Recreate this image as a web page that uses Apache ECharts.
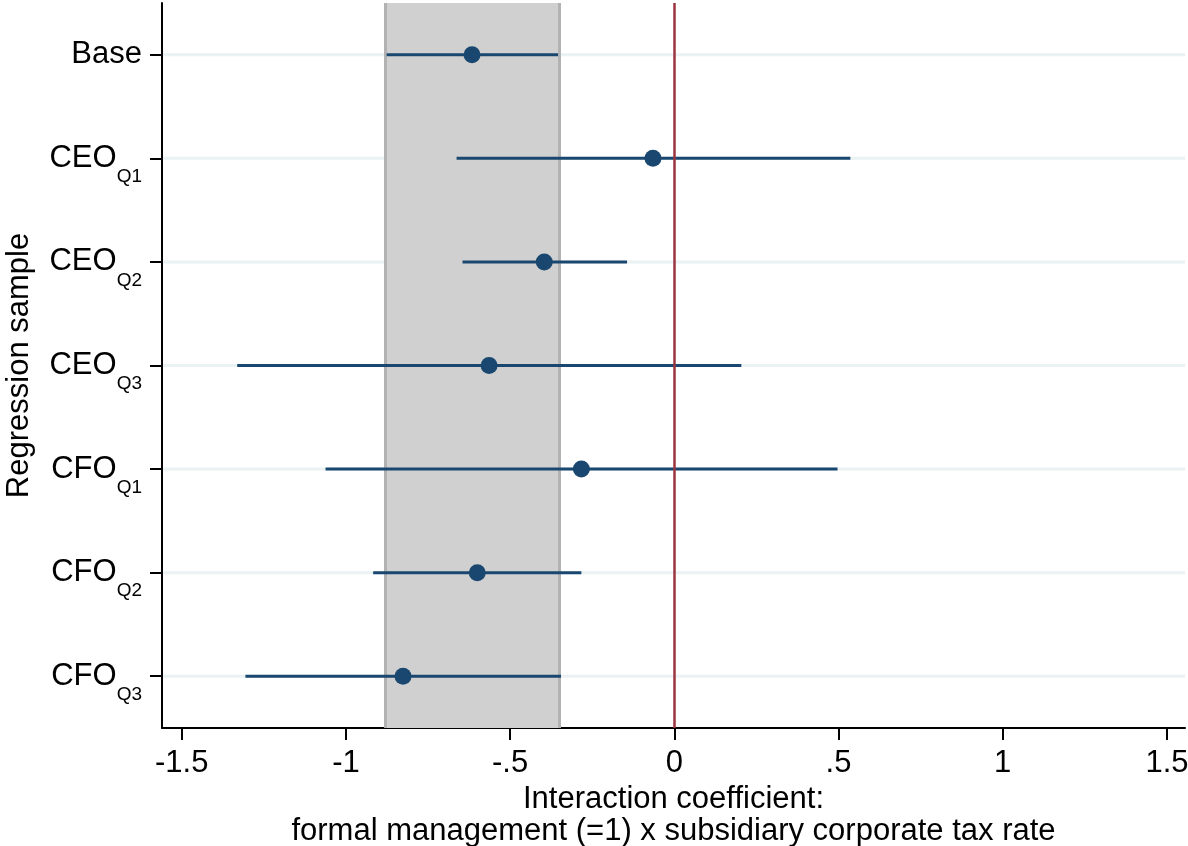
<!DOCTYPE html>
<html>
<head>
<meta charset="utf-8">
<title>Interaction coefficient by regression sample</title>
<script src="https://cdn.jsdelivr.net/npm/echarts@6/dist/echarts.min.js"></script>
<style>
  html, body { margin: 0; padding: 0; background: #ffffff; }
  #chart { width: 1188px; height: 846px; }
</style>
</head>
<body>
<div id="chart"></div>
<script>
// Regression samples (main label + subscript quartile)
const sampleNames = ['Base', 'CEO', 'CEO', 'CEO', 'CFO', 'CFO', 'CFO'];
const sampleQuartiles = ['', 'Q1', 'Q2', 'Q3', 'Q1', 'Q2', 'Q3'];

// Point estimates and confidence bounds
const coef   = [-0.616, -0.065, -0.396, -0.564, -0.283, -0.600, -0.826];
const ciLow  = [-0.876, -0.663, -0.645, -1.331, -1.062, -0.917, -1.306];
const ciHigh = [-0.354,  0.536, -0.144,  0.204,  0.497, -0.283, -0.345];

// Shaded reference band (base-sample confidence interval)
const bandRange = [-0.880, -0.351];

// X axis ticks and their labels
const xTicks = [-1.5, -1, -0.5, 0, 0.5, 1, 1.5];
const xTickLabels = ['-1.5', '-1', '-.5', '0', '.5', '1', '1.5'];

const categories = sampleNames.map((n, i) => sampleQuartiles[i] ? n + '_' + sampleQuartiles[i] : n);

const FONT = "'Liberation Sans', Arial, Helvetica, sans-serif";
const NAVY = '#1a476f';
const FS = 31;

const chart = echarts.init(document.getElementById('chart'), null, { renderer: 'canvas' });

const option = {
  animation: false,
  backgroundColor: '#ffffff',
  textStyle: { fontFamily: FONT },
  grid: { left: 162, right: 3, top: 3, bottom: 118, containLabel: false, outerBoundsMode: 'none' },
  xAxis: {
    type: 'value',
    min: -1.56,
    max: 1.555,
    name: 'Interaction coefficient:\nformal management (=1) x subsidiary corporate tax rate',
    nameLocation: 'middle',
    nameGap: 39,
    nameTextStyle: { fontFamily: FONT, fontSize: FS, color: '#000', lineHeight: 32 },
    axisLine: { show: true, onZero: false, lineStyle: { color: '#000', width: 2 } },
    axisTick: { show: true, length: 12, lineStyle: { color: '#000', width: 2 }, customValues: xTicks },
    axisLabel: {
      fontFamily: FONT, fontSize: FS, color: '#000', margin: 20,
      customValues: xTicks,
      formatter: v => {
        const i = xTicks.findIndex(t => Math.abs(t - v) < 1e-9);
        return i >= 0 ? xTickLabels[i] : '';
      }
    },
    splitLine: { show: false }
  },
  yAxis: {
    type: 'category',
    inverse: true,
    data: categories,
    boundaryGap: true,
    name: 'Regression sample',
    nameLocation: 'middle',
    nameGap: 127,
    nameTextStyle: { fontFamily: FONT, fontSize: FS, color: '#000' },
    axisLine: { show: true, onZero: false, lineStyle: { color: '#000', width: 2 } },
    axisTick: { show: true, alignWithLabel: true, length: 12, lineStyle: { color: '#000', width: 2 } },
    axisLabel: {
      margin: 20,
      formatter: v => {
        const parts = v.split('_');
        return parts.length > 1 ? '{m|' + parts[0] + '}{s|' + parts[1] + '}' : '{m|' + parts[0] + '}';
      },
      rich: {
        m: { fontFamily: FONT, fontSize: FS, color: '#000', lineHeight: 56, verticalAlign: 'middle' },
        s: { fontFamily: FONT, fontSize: 19, color: '#000', lineHeight: 20, verticalAlign: 'bottom' }
      }
    },
    splitLine: { show: false }
  },
  series: [
    {
      // horizontal grid lines at each sample
      type: 'custom',
      z: 0,
      silent: true,
      data: categories.map((c, i) => [0, i]),
      encode: { x: 0, y: 1 },
      renderItem: (params, api) => {
        const y = api.coord([0, api.value(1)])[1];
        const cs = params.coordSys;
        return {
          type: 'line',
          shape: { x1: cs.x + 1, y1: y, x2: cs.x + cs.width, y2: y },
          style: { stroke: '#eaf2f3', lineWidth: 3 }
        };
      }
    },
    {
      // shaded band with darker edges
      type: 'line',
      data: [],
      z: 2,
      markArea: {
        silent: true,
        z: 2,
        itemStyle: { color: '#d0d0d0', borderWidth: 0 },
        data: [[{ xAxis: bandRange[0] }, { xAxis: bandRange[1] }]]
      },
      markLine: {
        silent: true,
        z: 2,
        symbol: 'none',
        label: { show: false },
        lineStyle: { color: '#b2b2b2', width: 3, type: 'solid' },
        data: bandRange.map(v => ({ xAxis: v }))
      }
    },
    {
      // confidence intervals
      type: 'custom',
      z: 3,
      data: categories.map((c, i) => [ciLow[i], ciHigh[i], i]),
      encode: { x: [0, 1], y: 2 },
      renderItem: (params, api) => {
        const p1 = api.coord([api.value(0), api.value(2)]);
        const p2 = api.coord([api.value(1), api.value(2)]);
        return {
          type: 'line',
          shape: { x1: p1[0], y1: p1[1], x2: p2[0], y2: p2[1] },
          style: { stroke: NAVY, lineWidth: 3 }
        };
      }
    },
    {
      // zero line
      type: 'line',
      data: [],
      z: 4,
      markLine: {
        silent: true,
        z: 4,
        symbol: 'none',
        label: { show: false },
        lineStyle: { color: '#9c3540', width: 2.5, type: 'solid' },
        data: [{ xAxis: 0 }]
      }
    },
    {
      // point estimates
      type: 'scatter',
      z: 5,
      symbol: 'circle',
      symbolSize: 17,
      itemStyle: { color: NAVY, opacity: 1 },
      data: categories.map((c, i) => [coef[i], i])
    }
  ]
};

chart.setOption(option);
</script>
</body>
</html>
